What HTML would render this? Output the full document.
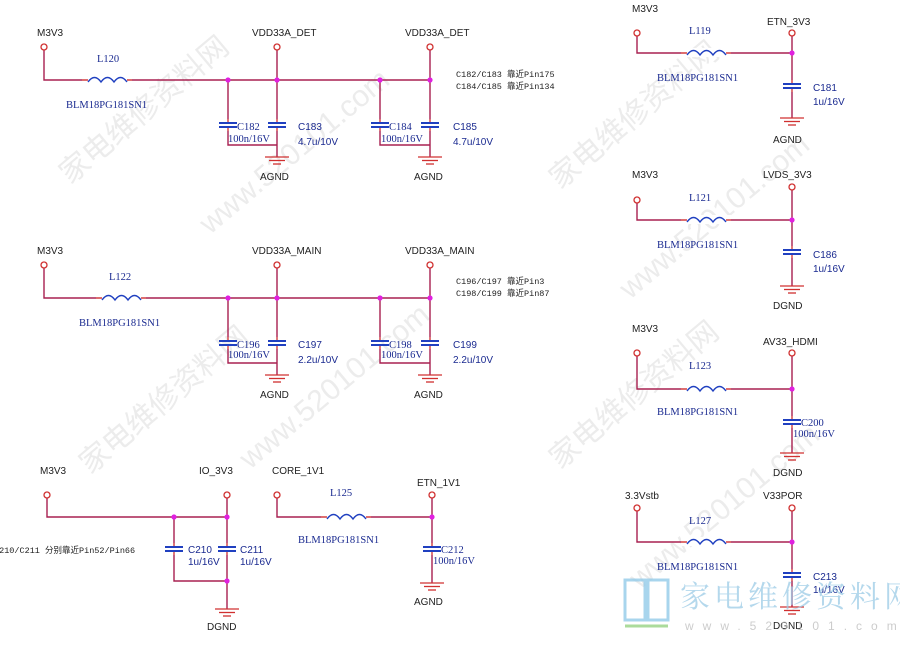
<!DOCTYPE html>
<html><head><meta charset="utf-8"><style>
html,body{margin:0;padding:0;background:#fff;}
svg{display:block}
.n{font-family:"Liberation Sans",sans-serif;font-size:10px;fill:#222}
.c{font-family:"Liberation Serif",serif;font-size:10.5px;fill:#1a2a90}
.cs{font-family:"Liberation Sans",sans-serif;font-size:10px;fill:#1a2a90}
.t{font-family:"Liberation Mono","Noto Sans CJK SC",monospace;font-size:8.5px;fill:#222}
.w{font-family:"Liberation Sans","Noto Sans CJK SC",sans-serif;font-size:30px;fill:#ececec}
</style></head><body>
<svg width="900" height="649" viewBox="0 0 900 649" xmlns="http://www.w3.org/2000/svg">
<defs>
<g id="port"><circle cx="0" cy="0" r="3" fill="#fff" stroke="#d03030" stroke-width="1.3"/></g>
<g id="cap"><line x1="0" y1="-6" x2="0" y2="-2" stroke="#d03030" stroke-width="1.3"/><line x1="0" y1="2" x2="0" y2="6" stroke="#d03030" stroke-width="1.3"/><line x1="-9" y1="-2" x2="9" y2="-2" stroke="#2040c0" stroke-width="2"/><line x1="-9" y1="2" x2="9" y2="2" stroke="#2040c0" stroke-width="2"/></g>
<g id="gnd" stroke="#d03030" stroke-width="1.3"><line x1="-12" y1="0" x2="12" y2="0"/><line x1="-8" y1="3.5" x2="8" y2="3.5"/><line x1="-4" y1="7" x2="4" y2="7"/></g>
<g id="ind"><rect x="-2" y="-5" width="50" height="9" fill="#fff"/><line x1="-2" y1="0" x2="4" y2="0" stroke="#d03030" stroke-width="1.4"/><line x1="43" y1="0" x2="48" y2="0" stroke="#d03030" stroke-width="1.4"/><path d="M4 2 q6.5 -9 13 0 q6.5 -9 13 0 q6.5 -9 13 0" fill="none" stroke="#2040c0" stroke-width="1.4"/></g>
<circle id="j" r="2.6" fill="#e020e0"/>
</defs>

<g transform="translate(70,185) rotate(-40)"><text class="w">家电维修资料网</text></g>
<g transform="translate(210,235) rotate(-40)"><text class="w">www.520101.com</text></g>
<g transform="translate(90,475) rotate(-40)"><text class="w">家电维修资料网</text></g>
<g transform="translate(250,470) rotate(-40)"><text class="w">www.520101.com</text></g>
<g transform="translate(560,190) rotate(-40)"><text class="w">家电维修资料网</text></g>
<g transform="translate(630,300) rotate(-40)"><text class="w">www.520101.com</text></g>
<g transform="translate(560,470) rotate(-40)"><text class="w">家电维修资料网</text></g>
<g transform="translate(640,590) rotate(-40)"><text class="w">www.520101.com</text></g>

<g fill="none" stroke="#a82050" stroke-width="1.4">
<path d="M44 50V80H430M277 50V80M430 50V80"/>
<path d="M228 80V119M228 131V145H277M277 80V119M277 131V157"/>
<path d="M380 80V119M380 131V145H430M430 80V119M430 131V157"/>
<path d="M44 268V298H430M277 268V298M430 268V298"/>
<path d="M228 298V337M228 349V363H277M277 298V337M277 349V375"/>
<path d="M380 298V337M380 349V363H430M430 298V337M430 349V375"/>
<path d="M47 498V517H227M227 498V517"/>
<path d="M174 517V543M174 555V581H227M227 517V543M227 555V609"/>
<path d="M277 498V517H432M432 498V517M432 517V543M432 555V583"/>
<path d="M637 36V53H792M792 36V80M792 92V118"/>
<path d="M637 203V220H792M792 190V246M792 258V286"/>
<path d="M637 356V389H792M792 356V416M792 428V453"/>
<path d="M637 511V542H792M792 511V569M792 581V607"/>
</g>

<use href="#ind" x="84" y="80"/>
<use href="#ind" x="98" y="298"/>
<use href="#ind" x="323" y="517"/>
<use href="#ind" x="683" y="53"/>
<use href="#ind" x="683" y="220"/>
<use href="#ind" x="683" y="389"/>
<use href="#ind" x="683" y="542"/>

<use href="#port" x="44" y="47"/><use href="#port" x="277" y="47"/><use href="#port" x="430" y="47"/>
<use href="#port" x="44" y="265"/><use href="#port" x="277" y="265"/><use href="#port" x="430" y="265"/>
<use href="#port" x="47" y="495"/><use href="#port" x="227" y="495"/><use href="#port" x="277" y="495"/><use href="#port" x="432" y="495"/>
<use href="#port" x="637" y="33"/><use href="#port" x="792" y="33"/>
<use href="#port" x="637" y="200"/><use href="#port" x="792" y="187"/>
<use href="#port" x="637" y="353"/><use href="#port" x="792" y="353"/>
<use href="#port" x="637" y="508"/><use href="#port" x="792" y="508"/>

<use href="#cap" x="228" y="125"/><use href="#cap" x="277" y="125"/><use href="#cap" x="380" y="125"/><use href="#cap" x="430" y="125"/>
<use href="#cap" x="228" y="343"/><use href="#cap" x="277" y="343"/><use href="#cap" x="380" y="343"/><use href="#cap" x="430" y="343"/>
<use href="#cap" x="174" y="549"/><use href="#cap" x="227" y="549"/><use href="#cap" x="432" y="549"/>
<use href="#cap" x="792" y="86"/><use href="#cap" x="792" y="252"/><use href="#cap" x="792" y="422"/><use href="#cap" x="792" y="575"/>

<use href="#gnd" x="277" y="157"/><use href="#gnd" x="430" y="157"/>
<use href="#gnd" x="277" y="375"/><use href="#gnd" x="430" y="375"/>
<use href="#gnd" x="227" y="609"/><use href="#gnd" x="432" y="583"/>
<use href="#gnd" x="792" y="118"/><use href="#gnd" x="792" y="286"/><use href="#gnd" x="792" y="453"/><use href="#gnd" x="792" y="607"/>

<use href="#j" x="228" y="80"/><use href="#j" x="277" y="80"/><use href="#j" x="380" y="80"/><use href="#j" x="430" y="80"/>
<use href="#j" x="228" y="298"/><use href="#j" x="277" y="298"/><use href="#j" x="380" y="298"/><use href="#j" x="430" y="298"/>
<use href="#j" x="174" y="517"/><use href="#j" x="227" y="517"/><use href="#j" x="227" y="581"/><use href="#j" x="432" y="517"/>
<use href="#j" x="792" y="53"/><use href="#j" x="792" y="220"/><use href="#j" x="792" y="389"/><use href="#j" x="792" y="542"/>

<text class="n" x="37" y="36">M3V3</text>
<text class="n" x="252" y="36">VDD33A_DET</text>
<text class="n" x="405" y="36">VDD33A_DET</text>
<text class="c" x="97" y="62">L120</text>
<text class="c" x="66" y="108">BLM18PG181SN1</text>
<text class="t" x="456" y="77">C182/C183 靠近Pin175</text>
<text class="t" x="456" y="89">C184/C185 靠近Pin134</text>
<text class="c" x="237" y="130">C182</text>
<text class="c" x="228" y="142">100n/16V</text>
<text class="cs" x="298" y="130">C183</text>
<text class="cs" x="298" y="145">4.7u/10V</text>
<text class="c" x="389" y="130">C184</text>
<text class="c" x="381" y="142">100n/16V</text>
<text class="cs" x="453" y="130">C185</text>
<text class="cs" x="453" y="145">4.7u/10V</text>
<text class="n" x="260" y="180">AGND</text>
<text class="n" x="414" y="180">AGND</text>

<text class="n" x="37" y="254">M3V3</text>
<text class="n" x="252" y="254">VDD33A_MAIN</text>
<text class="n" x="405" y="254">VDD33A_MAIN</text>
<text class="c" x="109" y="280">L122</text>
<text class="c" x="79" y="326">BLM18PG181SN1</text>
<text class="t" x="456" y="284">C196/C197 靠近Pin3</text>
<text class="t" x="456" y="296">C198/C199 靠近Pin87</text>
<text class="c" x="237" y="348">C196</text>
<text class="c" x="228" y="358">100n/16V</text>
<text class="cs" x="298" y="348">C197</text>
<text class="cs" x="298" y="363">2.2u/10V</text>
<text class="c" x="389" y="348">C198</text>
<text class="c" x="381" y="358">100n/16V</text>
<text class="cs" x="453" y="348">C199</text>
<text class="cs" x="453" y="363">2.2u/10V</text>
<text class="n" x="260" y="398">AGND</text>
<text class="n" x="414" y="398">AGND</text>

<text class="n" x="40" y="474">M3V3</text>
<text class="n" x="199" y="474">IO_3V3</text>
<text class="n" x="272" y="474">CORE_1V1</text>
<text class="n" x="417" y="486">ETN_1V1</text>
<text class="t" x="-6" y="553">C210/C211 分别靠近Pin52/Pin66</text>
<text class="cs" x="188" y="553">C210</text>
<text class="cs" x="188" y="565">1u/16V</text>
<text class="cs" x="240" y="553">C211</text>
<text class="cs" x="240" y="565">1u/16V</text>
<text class="n" x="207" y="630">DGND</text>
<text class="c" x="330" y="496">L125</text>
<text class="c" x="298" y="543">BLM18PG181SN1</text>
<text class="c" x="441" y="553">C212</text>
<text class="c" x="433" y="564">100n/16V</text>
<text class="n" x="414" y="605">AGND</text>

<text class="n" x="632" y="12">M3V3</text>
<text class="n" x="767" y="25">ETN_3V3</text>
<text class="c" x="689" y="34">L119</text>
<text class="c" x="657" y="81">BLM18PG181SN1</text>
<text class="cs" x="813" y="91">C181</text>
<text class="cs" x="813" y="105">1u/16V</text>
<text class="n" x="773" y="143">AGND</text>

<text class="n" x="632" y="178">M3V3</text>
<text class="n" x="763" y="178">LVDS_3V3</text>
<text class="c" x="689" y="201">L121</text>
<text class="c" x="657" y="248">BLM18PG181SN1</text>
<text class="cs" x="813" y="258">C186</text>
<text class="cs" x="813" y="272">1u/16V</text>
<text class="n" x="773" y="309">DGND</text>

<text class="n" x="632" y="332">M3V3</text>
<text class="n" x="763" y="345">AV33_HDMI</text>
<text class="c" x="689" y="369">L123</text>
<text class="c" x="657" y="415">BLM18PG181SN1</text>
<text class="c" x="801" y="426">C200</text>
<text class="c" x="793" y="437">100n/16V</text>
<text class="n" x="773" y="476">DGND</text>

<text class="n" x="625" y="499">3.3Vstb</text>
<text class="n" x="763" y="499">V33POR</text>
<text class="c" x="689" y="524">L127</text>
<text class="c" x="657" y="570">BLM18PG181SN1</text>
<text class="cs" x="813" y="580">C213</text>
<text class="cs" x="813" y="593">1u/16V</text>
<text class="n" x="773" y="629">DGND</text>

<g opacity="0.75">
<path d="M625 580h20v40h-20zM648 580h20v40h-20z" fill="none" stroke="#8cc8e8" stroke-width="3"/>
<path d="M625 626h43" stroke="#8fd07a" stroke-width="3"/>
<text x="680" y="607" style="font-family:'Noto Serif CJK SC',serif;font-size:30px;fill:#9ccbe6;letter-spacing:4px">家电维修资料网</text>
<text x="685" y="630" style="font-family:'Liberation Sans',sans-serif;font-size:12px;fill:#bbb;letter-spacing:9px">www.520101.com</text>
</g>
</svg>
</body></html>
